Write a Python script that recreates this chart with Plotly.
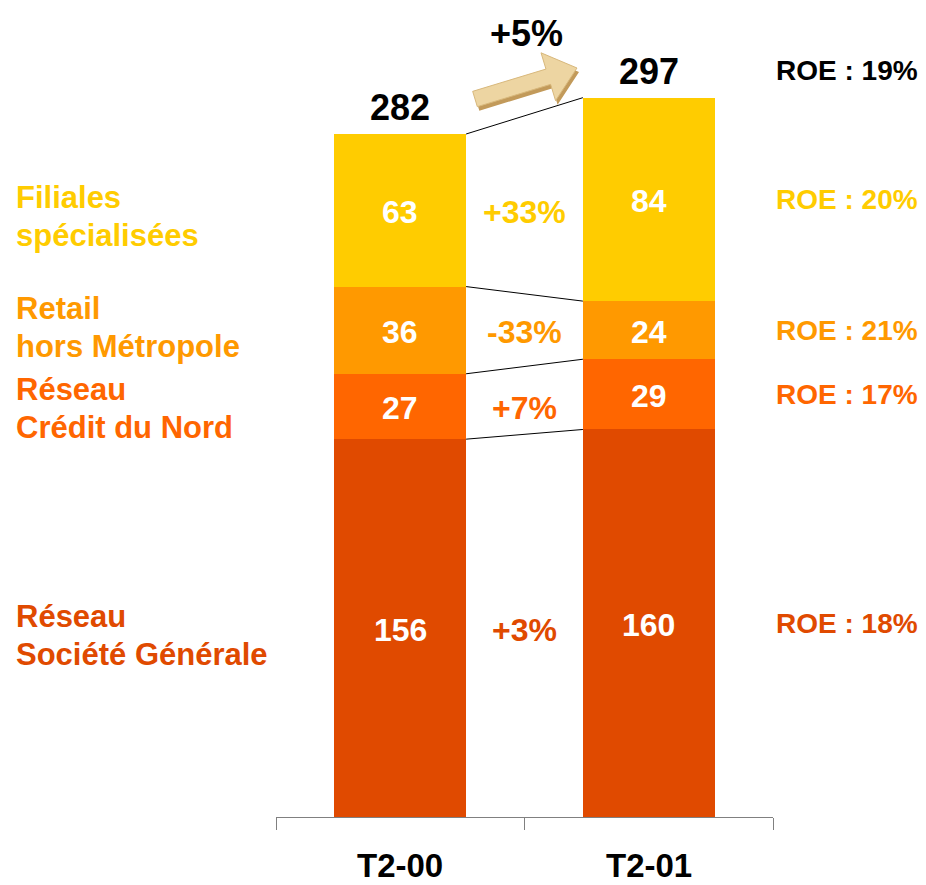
import plotly.graph_objects as go
import numpy as np

periods = ["T2-00", "T2-01"]
segments = ["Réseau\nSociété Générale", "Réseau\nCrédit du Nord", "Retail\nhors Métropole", "Filiales\nspécialisées"]
values_t200 = [156, 27, 36, 63]
values_t201 = [160, 29, 24, 84]
totals = [282, 297]
growth = ["+3%", "+7%", "-33%", "+33%"]
roe_segments = ["ROE : 18%", "ROE : 17%", "ROE : 21%", "ROE : 20%"]
roe_total = "ROE : 19%"
total_growth = "+5%"
colors = ["#E04A00", "#FF6600", "#FF9900", "#FFCC00"]

OFF = 8                      # page body margin
W, H = 918, 877
ML, MR, MT, MB = 268, 153, 20, 68
BW = 0.53
FONT = "Liberation Sans, Arial, sans-serif"
PW, PH = W - ML - MR, H - MT - MB
PX_PER_UNIT = (817 - 134) / 282


def px_to_paper_x(px):
    return (px - OFF - ML) / PW


def px_to_paper_y(py):
    return (H - MB - (py - OFF)) / PH


fig = go.Figure()
for i in range(len(segments)):
    fig.add_trace(go.Bar(
        x=[0, 1], y=[values_t200[i], values_t201[i]],
        width=BW, marker=dict(color=colors[i], line=dict(width=0)),
        showlegend=False, hoverinfo="skip",
    ))

cum0 = np.cumsum(values_t200)
cum1 = np.cumsum(values_t201)

shapes = []
for k in range(len(segments)):
    shapes.append(dict(type="line", xref="x", yref="y",
                       x0=BW / 2, x1=1 - BW / 2, y0=cum0[k], y1=cum1[k],
                       line=dict(color="black", width=1)))

annotations = []
label_shift = [-7, -2, 3, -6]
for k in range(len(segments)):
    base0 = cum0[k] - values_t200[k]
    base1 = cum1[k] - values_t201[k]
    c0 = base0 + values_t200[k] / 2
    c1 = base1 + values_t201[k] / 2
    # values inside bars
    annotations.append(dict(xref="x", yref="y", x=0, y=c0, yshift=-2, text=str(values_t200[k]),
                            showarrow=False, xanchor="center", yanchor="middle",
                            font=dict(family=FONT, size=32, color="white", weight="bold")))
    annotations.append(dict(xref="x", yref="y", x=1, y=c1, yshift=-2, text=str(values_t201[k]),
                            showarrow=False, xanchor="center", yanchor="middle",
                            font=dict(family=FONT, size=32, color="white", weight="bold")))
    lines = segments[k].split("\n")
    for li, line in enumerate(lines):
        annotations.append(dict(xref="paper", yref="y", x=px_to_paper_x(14), y=c0,
                                yshift=label_shift[k] + (19 if li == 0 else -19),
                                text=line, showarrow=False, xanchor="left", yanchor="middle",
                                align="left",
                                font=dict(family=FONT, size=31, color=colors[k], weight="bold")))
    annotations.append(dict(xref="x", yref="y", x=0.5, y=c0, yshift=-2, text=growth[k], showarrow=False,
                            xanchor="center", yanchor="middle",
                            font=dict(family=FONT, size=32, color=colors[k], weight="bold")))
    annotations.append(dict(xref="paper", yref="y", x=px_to_paper_x(920), y=c1,
                            text=roe_segments[k], showarrow=False, xanchor="right", yanchor="middle",
                            font=dict(family=FONT, size=28, color=colors[k], weight="bold")))

for j, t in enumerate(totals):
    annotations.append(dict(xref="x", yref="y", x=j, y=t, text=str(t), showarrow=False,
                            xanchor="center", yanchor="bottom", yshift=4,
                            font=dict(family=FONT, size=36, color="black", weight="bold")))
annotations.append(dict(xref="paper", yref="y", x=px_to_paper_x(920), y=totals[1],
                        text=roe_total, showarrow=False, xanchor="right", yanchor="middle", yshift=27,
                        font=dict(family=FONT, size=28, color="black", weight="bold")))
annotations.append(dict(xref="paper", yref="paper", x=px_to_paper_x(526), y=px_to_paper_y(33),
                        text=total_growth, showarrow=False, xanchor="center", yanchor="middle",
                        font=dict(family=FONT, size=36, color="black", weight="bold")))
for j, p in enumerate(periods):
    annotations.append(dict(xref="x", yref="paper", x=j, y=px_to_paper_y(866), text=p,
                            showarrow=False, xanchor="center", yanchor="middle",
                            font=dict(family=FONT, size=33, color="black", weight="bold")))

# decorative 3D arrow (pixel geometry converted to paper coords)
start = np.array([475.0, 99.0])
tip = np.array([577.0, 68.0])
d = tip - start
L = np.linalg.norm(d)
u = d / L
v = np.array([u[1], -u[0]])
hw, hhw, hl = 8.0, 25.0, 30.0
local = [(0, -hw), (L - hl, -hw), (L - hl, -hhw), (L, 0), (L - hl, hhw), (L - hl, hw), (0, hw)]


def arrow_path(offset):
    pts = []
    for a, b in local:
        p = start + a * u + b * v + np.array(offset)
        pts.append((px_to_paper_x(p[0]), px_to_paper_y(p[1])))
    return "M " + " L ".join(f"{x:.5f},{y:.5f}" for x, y in pts) + " Z"


shapes.append(dict(type="path", xref="paper", yref="paper", path=arrow_path((2, 4)),
                   fillcolor="#C29A5A", line=dict(width=0), layer="above"))
shapes.append(dict(type="path", xref="paper", yref="paper", path=arrow_path((0, 0)),
                   fillcolor="#EDD5A2", line=dict(color="#D8B87C", width=1), layer="above"))

fig.update_layout(
    width=W, height=H,
    margin=dict(l=ML, r=MR, t=MT, b=MB, autoexpand=False),
    barmode="stack", bargap=0,
    plot_bgcolor="white", paper_bgcolor="white",
    shapes=shapes, annotations=annotations,
    xaxis=dict(range=[-0.5, 1.5], tickvals=[0, 1], ticktext=["", ""],
               showline=True, linecolor="#808080", linewidth=1,
               ticks="", showgrid=False, zeroline=False, automargin=False,
               minor=dict(tickvals=[-0.5, 0.5, 1.5], ticks="outside", ticklen=12,
                          tickcolor="#808080", tickwidth=1, showgrid=False)),
    yaxis=dict(range=[0, PH / PX_PER_UNIT], visible=False, showgrid=False),
)

fig.write_html("out.html")
